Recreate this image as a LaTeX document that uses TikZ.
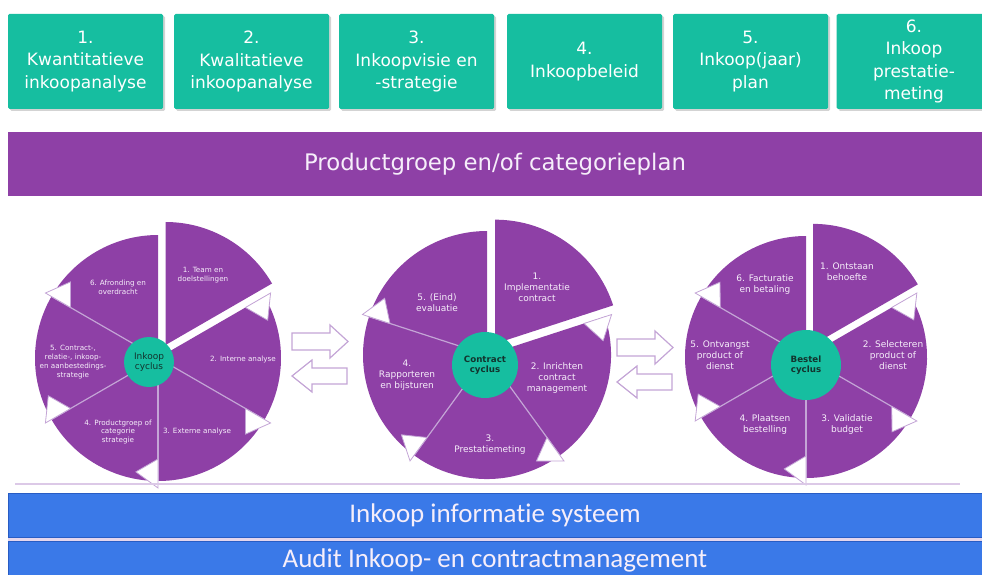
\documentclass[tikz,border=0pt]{standalone}
\usepackage{fontspec}
\setmainfont{DejaVu Sans}
\newfontfamily\barfont[Ligatures=NoCommon]{Carlito}
\usetikzlibrary{shadows}

\definecolor{tealbox}{RGB}{22,190,160}
\definecolor{plum}{RGB}{142,64,166}
\definecolor{barblue}{RGB}{58,121,232}
\definecolor{bardark}{RGB}{40,92,196}
\definecolor{lilac}{RGB}{196,165,214}
\definecolor{palelabel}{RGB}{246,238,250}
\definecolor{hubtext}{RGB}{18,52,46}

\tikzset{
  stepbox/.style={fill=tealbox, rounded corners=1.5pt, minimum width=155, minimum height=95,
    align=center, text=white, font=\fontsize{17}{22.5}\selectfont,
    drop shadow={shadow xshift=2pt, shadow yshift=-2pt, opacity=.35}},
  band/.style={fill=plum, minimum width=974, minimum height=64, inner sep=0,
    text=palelabel, font=\fontsize{22.8}{27}\selectfont},
  bar/.style={fill=barblue, draw=bardark, line width=.8, minimum width=974, inner sep=0,
    text=palelabel, font={\barfont\fontsize{27}{30}\selectfont}},
  hub/.style={circle, fill=tealbox, text=hubtext, align=center, inner sep=0,
    font=\fontsize{8.7}{10.5}\selectfont\bfseries},
  segtext/.style={text=palelabel, align=center, inner sep=0, font=\fontsize{9}{11}\selectfont},
  smalltext/.style={segtext, font=\fontsize{7.2}{8.8}\selectfont},
  spoke/.style={draw=lilac, line width=1.2},
  notch/.style={fill=white, draw=lilac, line width=.8, line join=miter},
  flow/.style={fill=white, draw=lilac, line width=1.2, line join=miter}
}

\begin{document}
\begin{tikzpicture}[x=1pt,y=-1pt]
\useasboundingbox (0,0) rectangle (982,575);

% steps
\begin{scope}[every node/.style={stepbox}]
    \node (step1) at (85.5,61.5) {1.\\Kwantitatieve\\inkoopanalyse};
    \node (step2) at (251.5,61.5) {2.\\Kwalitatieve\\inkoopanalyse};
    \node (step3) at (416.5,61.5) {3.\\Inkoopvisie en\\-strategie};
    \node (step4) at (584.5,61.5) {4.\\Inkoopbeleid};
    \node (step5) at (750.5,61.5) {5.\\Inkoop(jaar)\\plan};
    \node (step6) at (914,61.5) {6.\\Inkoop\\prestatie-\\meting};
\end{scope}

\node[band] (plan) at (495,164) {Productgroep en/of categorieplan};

% inkoop cyclus
\begin{scope}[shift={(158,358)}]
    \fill[plum] (0,0) -- (-30:123) arc[start angle=-30, end angle=270, radius=123] -- cycle;
    \fill[plum, shift={(-60:15)}] (0,0) -- (-90:123) arc[start angle=-90, end angle=-30, radius=123] -- cycle;
    \foreach \a in {30,90,150,210} \draw[spoke] (0,0) -- (\a:123);
    \foreach \a in {-30,30,90,150,210} \draw[notch] (\a:101) -- (\a:130) -- (\a+11:116) -- cycle;
\end{scope}
\node[hub, minimum size=50, font=\fontsize{9}{10.5}\selectfont] (inkoop) at (149,362) {Inkoop\\cyclus};
\begin{scope}[every node/.style={smalltext}]
    \node (inkoop1) at (203,275) {1. Team en\\doelstellingen};
    \node (inkoop2) at (243,360) {2. Interne analyse};
    \node (inkoop3) at (197,432) {3. Externe analyse};
    \node (inkoop4) at (118,432) {4. Productgroep of\\categorie\\strategie};
    \node (inkoop5) at (73,362) {5. Contract-,\\relatie-, inkoop-\\en aanbestedings-\\strategie};
    \node (inkoop6) at (118,287) {6. Afronding en\\overdracht};
\end{scope}

% contract cyclus
\begin{scope}[shift={(487,355)}]
    \fill[plum] (0,0) -- (-18:124) arc[start angle=-18, end angle=270, radius=124] -- cycle;
    \fill[plum, shift={(-54:14)}] (0,0) -- (-90:124) arc[start angle=-90, end angle=-18, radius=124] -- cycle;
    \foreach \a in {54,126,198} \draw[spoke] (0,0) -- (\a:124);
    \foreach \a in {-18,54,126,198} \draw[notch] (\a:102) -- (\a:131) -- (\a+11:117) -- cycle;
\end{scope}
\node[hub, minimum size=66] (contract) at (485,365) {Contract\\cyclus};
\begin{scope}[every node/.style={segtext}]
    \node (contract1) at (537,287) {1.\\Implementatie\\contract};
    \node (contract2) at (557,378) {2. Inrichten\\contract\\management};
    \node (contract3) at (490,445) {3.\\Prestatiemeting};
    \node (contract4) at (407,375) {4.\\Rapporteren\\en bijsturen};
    \node (contract5) at (437,303) {5. (Eind)\\evaluatie};
\end{scope}

% bestel cyclus
\begin{scope}[shift={(806,357)}]
    \fill[plum] (0,0) -- (-30:121) arc[start angle=-30, end angle=270, radius=121] -- cycle;
    \fill[plum, shift={(-60:14)}] (0,0) -- (-90:121) arc[start angle=-90, end angle=-30, radius=121] -- cycle;
    \foreach \a in {30,90,150,210} \draw[spoke] (0,0) -- (\a:121);
    \foreach \a in {-30,30,90,150,210} \draw[notch] (\a:99) -- (\a:128) -- (\a+11:114) -- cycle;
\end{scope}
\node[hub, minimum size=70] (bestel) at (806,365) {Bestel\\cyclus};
\begin{scope}[every node/.style={segtext}]
    \node (bestel1) at (847,272) {1. Ontstaan\\behoefte};
    \node (bestel2) at (893,355) {2. Selecteren\\product of\\dienst};
    \node (bestel3) at (847,425) {3. Validatie\\budget};
    \node (bestel4) at (765,425) {4. Plaatsen\\bestelling};
    \node (bestel5) at (720,355) {5. Ontvangst\\product of\\dienst};
    \node (bestel6) at (765,285) {6. Facturatie\\en betaling};
\end{scope}

% heen en terug
\foreach \dx/\dy in {0/0,325/6} {
  \begin{scope}[shift={(\dx,\dy)}]
    \draw[flow] (292,333) -- (330,333) -- (330,325) -- (348,341.5) -- (330,358) -- (330,350) -- (292,350) -- cycle;
    \draw[flow] (347,368) -- (312,368) -- (312,360) -- (292,376) -- (312,392) -- (312,384) -- (347,384) -- cycle;
  \end{scope}
}

\draw[lilac!60, line width=1.5] (15,484) -- (960,484);

\fill[lilac!45] (8,535) rectangle (982,543);
\node[bar, minimum height=44] (ict) at (495,515) {Inkoop informatie systeem};
\node[bar, minimum height=38] (audit) at (495,560) {Audit Inkoop- en contractmanagement};
\end{tikzpicture}
\end{document}
